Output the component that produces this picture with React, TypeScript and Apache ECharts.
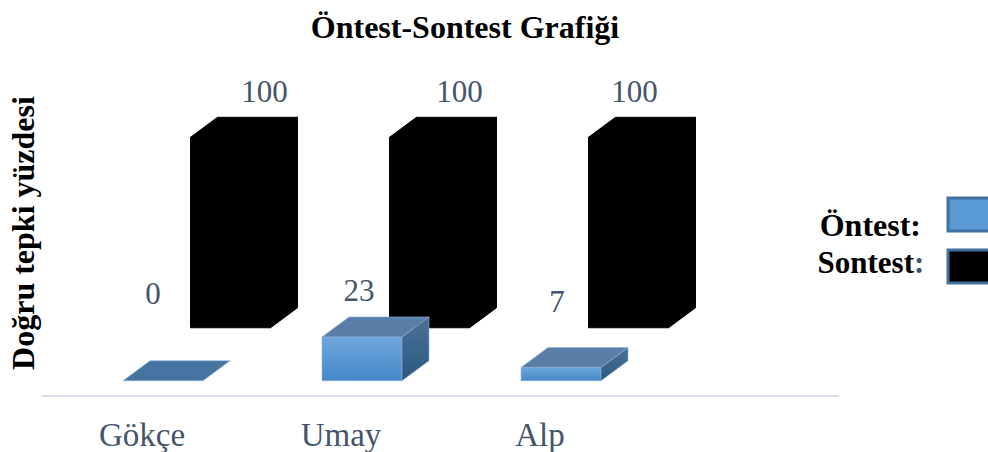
import React, { useEffect, useRef } from "react";
import * as echarts from "echarts";

const categories = ["Gökçe", "Umay", "Alp", ""];
const pretest = [0, 23, 7];
const posttest = [100, 100, 100];
const pretestName = "Öntest";
const posttestName = "Sontest";
const titleText = "Öntest-Sontest Grafiği";
const yAxisName = "Doğru tepki yüzdesi";

const SERIF = '"Liberation Serif", "Times New Roman", serif';
const SLATE = "#44546a";
const DEPTH_X = 27;
const DEPTH_Y = 20;
const BAR_W = 80;

const { LinearGradient } = echarts.graphic as any;

function box3d(
  api: any,
  offsetX: number,
  liftY: number,
  colors: { front: any; side: any; top: any; flat: string; stroke: string; strokeWidth: number },
  labelDx: number[],
  labelDy: number[],
) {
  const idx = api.value(0);
  const val = api.value(1);
  const base = api.coord([idx, 0]);
  const peak = api.coord([idx, val]);
  const l = base[0] + offsetX - BAR_W / 2;
  const r = l + BAR_W;
  const b = base[1] - liftY;
  const t = peak[1] - liftY;
  const poly = (points: number[][], fill: any) => ({
    type: "polygon",
    shape: { points },
    style: { fill, stroke: colors.stroke, lineWidth: colors.strokeWidth },
  });
  const children: any[] = [];
  if (val > 0) {
    children.push(poly([[l, b], [r, b], [r, t], [l, t]], colors.front));
    children.push(
      poly([[r, b], [r + DEPTH_X, b - DEPTH_Y], [r + DEPTH_X, t - DEPTH_Y], [r, t]], colors.side),
    );
  }
  children.push(
    poly(
      [[l, t], [r, t], [r + DEPTH_X, t - DEPTH_Y], [l + DEPTH_X, t - DEPTH_Y]],
      val > 0 ? colors.top : colors.flat,
    ),
  );
  children.push({
    type: "text",
    style: {
      text: String(val),
      x: (l + r) / 2 + labelDx[idx],
      y: t + labelDy[idx],
      fill: SLATE,
      font: `31px ${SERIF}`,
      align: "center",
      verticalAlign: "middle",
    },
  });
  return { type: "group", children };
}

export default function App() {
  const ref = useRef<HTMLDivElement>(null);
  useEffect(() => {
    const chart = echarts.init(ref.current!, undefined, { renderer: "svg" });
    const blue = {
      front: new LinearGradient(0, 0, 0, 1, [
        { offset: 0, color: "#6ea6dc" },
        { offset: 1, color: "#4688c9" },
      ]),
      side: new LinearGradient(0, 0, 0, 1, [
        { offset: 0, color: "#4a7299" },
        { offset: 1, color: "#2b5880" },
      ]),
      top: "#5a7ea8",
      flat: "#44749f",
      stroke: "#8fb4da",
      strokeWidth: 0.6,
    };
    const black = { front: "#000", side: "#000", top: "#000", flat: "#000", stroke: "#000", strokeWidth: 1 };
    const pairs = (vals: number[]) => vals.map((v, i) => [i, v]);
    chart.setOption({
      animation: false,
      title: {
        text: titleText,
        left: 460,
        top: 6,
        textAlign: "center",
        textStyle: { fontFamily: SERIF, fontWeight: "bold", fontSize: 32, color: "#000" },
      },
      grid: { left: 42.5, top: 76, width: 796, height: 320, outerBoundsMode: "none" },
      xAxis: {
        type: "category",
        data: categories,
        axisTick: { show: false },
        axisLine: { onZero: false, lineStyle: { color: "#d9dfe8", width: 2 } },
        axisLabel: { fontFamily: SERIF, fontSize: 33, color: SLATE, margin: 22 },
      },
      yAxis: {
        type: "value",
        min: -8,
        max: 160,
        name: yAxisName,
        nameLocation: "middle",
        nameGap: 4,
        nameTextStyle: {
          fontFamily: SERIF,
          fontWeight: "bold",
          fontSize: 32,
          color: "#000",
          padding: [0, 0, 0, 6],
        },
        axisLine: { show: false },
        axisTick: { show: false },
        axisLabel: { show: false },
        splitLine: { show: false },
      },
      series: [
        {
          type: "custom",
          name: posttestName,
          data: pairs(posttest),
          encode: { x: 0, y: 1 },
          clip: false,
          renderItem: (_p: any, api: any) =>
            box3d(api, 88.5, 53, black, [34, 30, 6], [-46, -46, -46]),
        },
        {
          type: "custom",
          name: pretestName,
          data: pairs(pretest),
          encode: { x: 0, y: 1 },
          clip: false,
          renderItem: (_p: any, api: any) =>
            box3d(api, 21, 0, blue, [-10, -3, -4], [-87, -46, -66]),
        },
      ],
      graphic: [
        {
          type: "text",
          style: {
            text: `${pretestName}:`,
            x: 921,
            y: 225,
            align: "right",
            verticalAlign: "middle",
            fill: "#000",
            font: `bold 32px ${SERIF}`,
          },
        },
        {
          type: "text",
          style: {
            text: posttestName,
            x: 914,
            y: 262,
            align: "right",
            verticalAlign: "middle",
            fill: "#000",
            font: `bold 31px ${SERIF}`,
          },
        },
        {
          type: "text",
          style: {
            text: ":",
            x: 914,
            y: 262,
            align: "left",
            verticalAlign: "middle",
            fill: SLATE,
            font: `bold 31px ${SERIF}`,
          },
        },
        {
          type: "rect",
          shape: { x: 948, y: 198, width: 60, height: 33 },
          style: { fill: "#5b9bd5", stroke: "#41719c", lineWidth: 3 },
        },
        {
          type: "rect",
          shape: { x: 948, y: 250, width: 60, height: 33 },
          style: { fill: "#000", stroke: "#41719c", lineWidth: 3 },
        },
      ],
    });
    return () => chart.dispose();
  }, []);
  return <div ref={ref} style={{ position: "absolute", left: 0, top: 0, width: 988, height: 452 }} />;
}
